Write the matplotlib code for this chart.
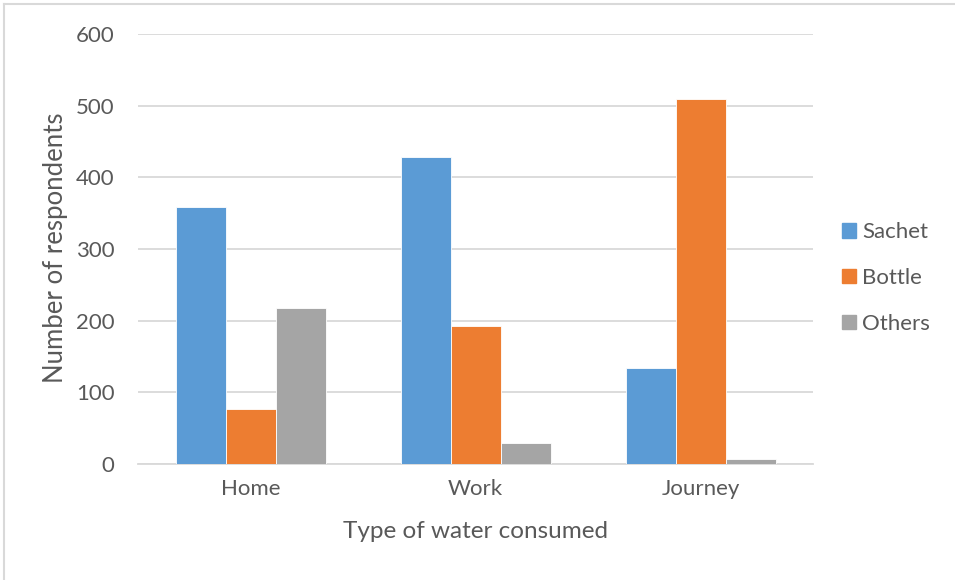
import matplotlib
matplotlib.use("Agg")
import matplotlib.pyplot as plt
import numpy as np
from matplotlib.patches import Rectangle
from matplotlib.lines import Line2D

categories = ["Home", "Work", "Journey"]
series_names = ["Sachet", "Bottle", "Others"]
sachet = [358, 429, 134]
bottle = [77, 193, 509]
others = [217, 30, 7]
y_ticks = [0, 100, 200, 300, 400, 500, 600]
x_label = "Type of water consumed"
y_label = "Number of respondents"

colors = ["#5B9BD5", "#ED7D31", "#A5A5A5"]
text_color = "#595959"
font = "Lato"
W, H = 955, 580

fig = plt.figure(figsize=(9.55, 5.8), dpi=100)
ax = fig.add_axes([138 / W, 1 - 464 / H, (813 - 138) / W, (464 - 34) / H])

x = np.arange(len(categories))
w = 2 / 9
for i, (vals, name, c) in enumerate(zip([sachet, bottle, others], series_names, colors)):
    ax.bar(x + (i - 1) * w, vals, width=w, color=c, label=name,
           edgecolor="white", linewidth=0.6, zorder=3)

ax.set_xlim(-0.5, 2.5)
ax.set_ylim(0, 600)
ax.set_yticks(y_ticks)
ax.set_xticks(x)
ax.set_xticklabels(categories)
ax.yaxis.grid(True, color="#D9D9D9", linewidth=1.3, zorder=0)
ax.set_axisbelow(True)
for s in ["top", "right", "left"]:
    ax.spines[s].set_visible(False)
ax.spines["bottom"].set_color("#D9D9D9")
ax.spines["bottom"].set_linewidth(1.3)
ax.tick_params(axis="both", length=0, labelcolor=text_color, labelsize=16)
ax.tick_params(axis="y", pad=17)
ax.tick_params(axis="x", pad=11)
for lab in ax.get_xticklabels() + ax.get_yticklabels():
    lab.set_fontfamily(font)

fig.text(475 / W, 1 - 532 / H, x_label, fontsize=17.5, color=text_color, family=font,
         ha="center", va="center")
fig.text(56 / W, 1 - 248 / H, y_label, fontsize=18.5, color=text_color, family=font,
         ha="center", va="center", rotation=90)

handles = [Rectangle((0, 0), 1, 1, color=c) for c in colors]
leg = fig.legend(handles, series_names, loc="center left",
                 bbox_to_anchor=(822 / W, 1 - 278 / H), frameon=False,
                 prop={"family": font, "size": 16}, handlelength=0.62,
                 handleheight=0.62, handletextpad=0.28, labelspacing=1.15)
for t in leg.get_texts():
    t.set_color(text_color)

# chart border (left and top edges visible)
fig.add_artist(Line2D([4 / W, 4 / W], [0, 1 - 4 / H], transform=fig.transFigure,
                      color="#D9D9D9", linewidth=1.5))
fig.add_artist(Line2D([4 / W, 1], [1 - 4 / H, 1 - 4 / H], transform=fig.transFigure,
                      color="#D9D9D9", linewidth=1.5))

fig.savefig("out.png", dpi=100)
